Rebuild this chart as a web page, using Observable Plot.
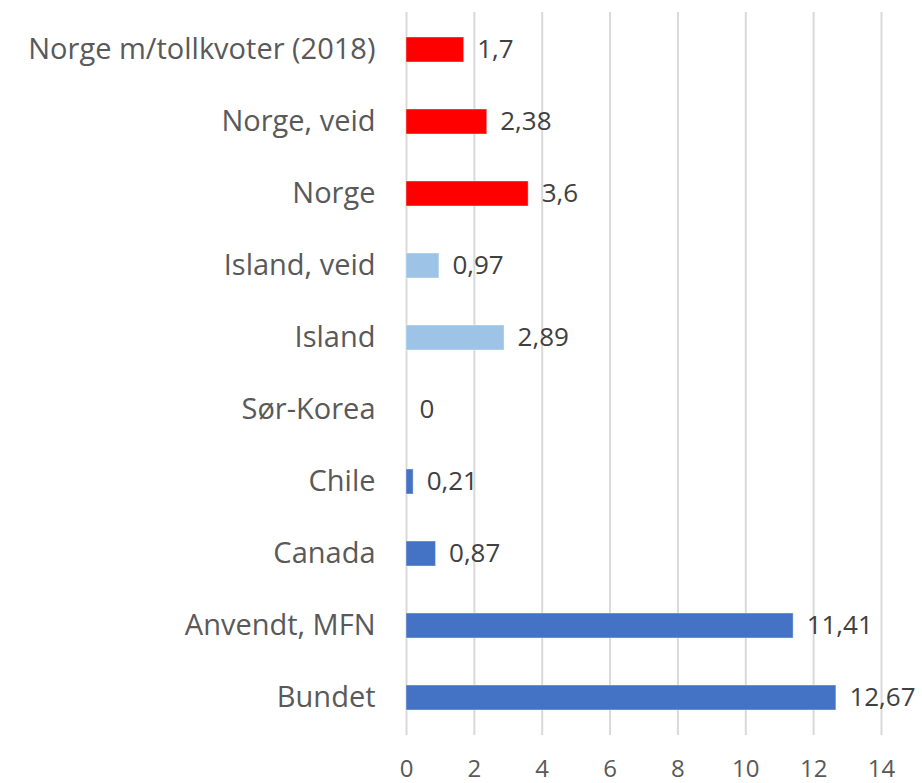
<!DOCTYPE html>
<html>
<head>
<meta charset="utf-8">
<script src="https://cdn.jsdelivr.net/npm/d3@7"></script>
<script src="https://cdn.jsdelivr.net/npm/@observablehq/plot@0.6"></script>
<style>
  html, body { margin: 0; padding: 0; background: #fff; }
  #chart { width: 922px; height: 783px; }
</style>
</head>
<body>
<div id="chart"></div>
<script>
const categories = ["Norge m/tollkvoter (2018)", "Norge, veid", "Norge", "Island, veid", "Island", "Sør-Korea", "Chile", "Canada", "Anvendt, MFN", "Bundet"];
const values = [1.7, 2.38, 3.6, 0.97, 2.89, 0, 0.21, 0.87, 11.41, 12.67];
const groups = ["Norge", "Norge", "Norge", "Island", "Island", "Andre", "Andre", "Andre", "Andre", "Andre"];
const groupNames = ["Norge", "Island", "Andre"];
const groupColors = ["#FF0000", "#9DC3E6", "#4472C4"];
const xTicks = [0, 2, 4, 6, 8, 10, 12, 14];

const data = categories.map((c, i) => ({category: c, value: values[i], group: groups[i]}));
const fmt = v => String(v).replace(".", ",");

const chart = Plot.plot({
  width: 922,
  height: 783,
  marginLeft: 406,
  marginRight: 41,
  marginTop: 12,
  marginBottom: 48,
  style: {fontFamily: "'Open Sans', sans-serif", color: "#595959", background: "#fff"},
  x: {domain: [0, 14], ticks: xTicks, label: null},
  y: {domain: categories, label: null, paddingInner: 0.65, paddingOuter: 0.325},
  color: {domain: groupNames, range: groupColors},
  marks: [
    Plot.gridX(xTicks, {stroke: "#d9d9d9", strokeOpacity: 1, strokeWidth: 2}),
    Plot.barX(data, {x: "value", y: "category", fill: "group", stroke: "#ffffff", strokeOpacity: 0.4, strokeWidth: 1}),
    Plot.text(data, {x: "value", y: "category", text: d => fmt(d.value), textAnchor: "start", dx: 13, fontSize: 26, fill: "#404040"}),
    Plot.axisX(xTicks, {tickSize: 0, tickPadding: 24, fontSize: 24, fill: "#595959", tickFormat: d => String(d)}),
    Plot.axisY({tickSize: 0, tickPadding: 31, fontSize: 29, fill: "#595959"})
  ]
});
document.getElementById("chart").appendChild(chart);
</script>
</body>
</html>
